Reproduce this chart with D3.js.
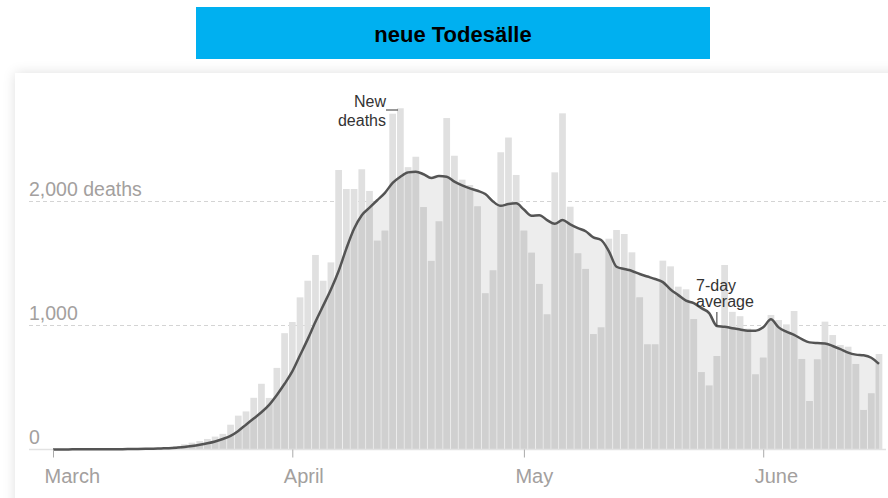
<!DOCTYPE html>
<html lang="de">
  <head>
    <meta charset="UTF-8" />
    <title>neue Todesälle</title>
    <script src="https://cdn.jsdelivr.net/npm/d3@7"></script>
    <style>
      html, body { margin: 0; padding: 0; background: #fff; }
      body { width: 888px; height: 498px; position: relative; overflow: hidden; }
      #card {
        position: absolute; left: 15px; top: 73px; width: 900px; height: 460px;
        background: #fff; box-shadow: 0 0 12px rgba(0, 0, 0, 0.13);
      }
      #chart { position: absolute; left: 0; top: 0; }
      text { font-family: "Liberation Sans", Arial, sans-serif; }
    </style>
  </head>
  <body>
    <div id="card"></div>
    <div id="chart"></div>

    <script>
      // Daily new deaths, 1 March .. 16 June (one value per day)
      const startDate = new Date(2020, 2, 1);
      const newDeaths = [
        // March
        1, 5, 1, 4, 1, 2, 3, 4, 4, 5, 8, 7, 11, 10, 12, 18,
        28, 42, 55, 68, 85, 104, 126, 200, 273, 307, 417, 530, 416, 658, 938,
        // April
        1028, 1227, 1361, 1569, 1361, 1509, 2254, 2101, 2101, 2260,
        2085, 1684, 1765, 2708, 2752, 2277, 2361, 1955, 1521, 1840,
        2673, 2369, 2176, 2133, 1961, 1260, 1445, 2397, 2516, 2214,
        // May
        1765, 1587, 1335, 1090, 2235, 2711, 1958, 1582, 1456, 931,
        985, 1700, 1770, 1738, 1590, 1227, 848, 848, 1523, 1477,
        1313, 1292, 1052, 624, 516, 754, 1488, 1110, 1075, 975, 606,
        // June
        741, 1085, 1044, 1009, 1117, 730, 391, 727, 1031, 923,
        843, 829, 690, 319, 453, 770
      ];

      // 7-day average
      const avgDeaths = [
        0, 1, 1, 2, 2, 2, 3, 3, 3, 3, 4, 5, 6, 7, 9, 11,
        15, 20, 28, 38, 50, 65, 85, 110, 150, 200, 250, 300, 360, 440, 530,
        630, 760, 890, 1030, 1160, 1290, 1440, 1620, 1780, 1890,
        1950, 2010, 2070, 2150, 2200, 2235, 2240, 2220, 2190, 2205,
        2200, 2160, 2130, 2106, 2087, 2060, 2000, 1965, 1980, 1985,
        1935, 1885, 1890, 1850, 1820, 1850, 1815, 1785, 1760, 1710,
        1690, 1600, 1474, 1455, 1440, 1415, 1395, 1375, 1350, 1290,
        1245, 1200, 1180, 1140, 1100, 996, 990, 978, 968, 958, 958,
        985, 1050, 985, 950, 925, 890, 864, 858, 855, 835,
        810, 781, 765, 760, 740, 690
      ];

      const monthTicks = [new Date(2020, 2, 1), new Date(2020, 3, 1), new Date(2020, 4, 1), new Date(2020, 5, 1)];
      const monthLabels = ["March", "April", "May", "June"];
      const yTicks = [0, 1000, 2000];
      const yTickLabels = ["0", "1,000", "2,000 deaths"];

      const data = newDeaths.map((v, i) => ({
        date: d3.timeDay.offset(startDate, i),
        value: v,
        avg: avgDeaths[i]
      }));

      const W = 888, H = 498;
      const svg = d3.select("#chart").append("svg").attr("width", W).attr("height", H);

      // title box
      svg.append("rect").attr("x", 196).attr("y", 7).attr("width", 514).attr("height", 52).attr("fill", "#00b0f0");
      svg.append("text").attr("x", 453).attr("y", 42).attr("text-anchor", "middle")
        .attr("font-size", 22).attr("font-weight", "bold").attr("fill", "#000")
        .text("neue Todesälle");

      const lastDate = data[data.length - 1].date;
      const x = d3.scaleTime().domain([startDate, lastDate]).range([53, 879]);
      const y = d3.scaleLinear().domain([0, 3000]).range([449.5, 449.5 - 372]);
      const step = x(d3.timeDay.offset(startDate, 1)) - x(startDate);
      const barW = step - 1;

      // gridlines + y labels
      const grid = svg.append("g");
      grid.selectAll("line").data(yTicks.filter((d) => d > 0)).enter().append("line")
        .attr("x1", 29).attr("x2", 886)
        .attr("y1", (d) => y(d)).attr("y2", (d) => y(d))
        .attr("stroke", "#d4d4d4").attr("stroke-dasharray", "4,3");
      grid.selectAll("text").data(yTicks).enter().append("text")
        .attr("x", 29).attr("y", (d) => y(d) - 6)
        .attr("font-size", 19.5).attr("fill", "#a3a09e")
        .text((d, i) => yTickLabels[i]);

      // area under the average
      const area = d3.area().x((d) => x(d.date)).y0(y(0)).y1((d) => y(d.avg)).curve(d3.curveMonotoneX);
      const line = d3.line().x((d) => x(d.date)).y((d) => y(d.avg)).curve(d3.curveMonotoneX);

      svg.append("clipPath").attr("id", "under").append("path").datum(data).attr("d", area);

      svg.append("path").datum(data).attr("d", area).attr("fill", "#ededed");

      const bars = (g, fill) =>
        g.selectAll("rect").data(data).enter().append("rect")
          .attr("x", (d) => x(d.date) - barW / 2)
          .attr("y", (d) => y(d.value))
          .attr("width", barW)
          .attr("height", (d) => y(0) - y(d.value))
          .attr("fill", fill);

      bars(svg.append("g"), "#e0e0e0");
      bars(svg.append("g").attr("clip-path", "url(#under)"), "#d0d0d0");

      // baseline
      svg.append("line").attr("x1", 29).attr("x2", 886).attr("y1", y(0)).attr("y2", y(0))
        .attr("stroke", "#e2e2e2").attr("stroke-width", 1.5);

      // average line
      svg.append("path").datum(data).attr("d", line)
        .attr("fill", "none").attr("stroke", "#545454").attr("stroke-width", 2.5)
        .attr("stroke-linejoin", "round");

      // x axis
      const xAxis = d3.axisBottom(x).tickValues(monthTicks).tickSize(8)
        .tickFormat((d, i) => monthLabels[i]);
      const ax = svg.append("g").attr("transform", "translate(0," + y(0) + ")").call(xAxis);
      ax.select(".domain").remove();
      ax.selectAll(".tick line").attr("stroke", "#aaa");
      ax.selectAll(".tick text")
        .attr("text-anchor", "start").attr("dx", -9).attr("y", 33).attr("dy", 0)
        .attr("font-size", 20).attr("fill", "#a3a09e")
        .style("font-family", "'Liberation Sans', Arial, sans-serif");

      // annotations
      const ann = svg.append("g").attr("fill", "#333").attr("font-size", 16);
      ann.append("text").attr("x", 386).attr("y", 107).attr("text-anchor", "end").text("New");
      ann.append("text").attr("x", 386).attr("y", 126).attr("text-anchor", "end").text("deaths");
      ann.append("line").attr("x1", 386).attr("x2", 398).attr("y1", 110).attr("y2", 110)
        .attr("stroke", "#333").attr("stroke-width", 1);

      ann.append("text").attr("x", 696).attr("y", 291).text("7-day");
      ann.append("text").attr("x", 696).attr("y", 307).text("average");
      const tickDate = data[86].date;
      ann.append("line").attr("x1", x(tickDate)).attr("x2", x(tickDate))
        .attr("y1", 312).attr("y2", y(data[86].avg))
        .attr("stroke", "#333").attr("stroke-width", 1);
    </script>
  </body>
</html>
